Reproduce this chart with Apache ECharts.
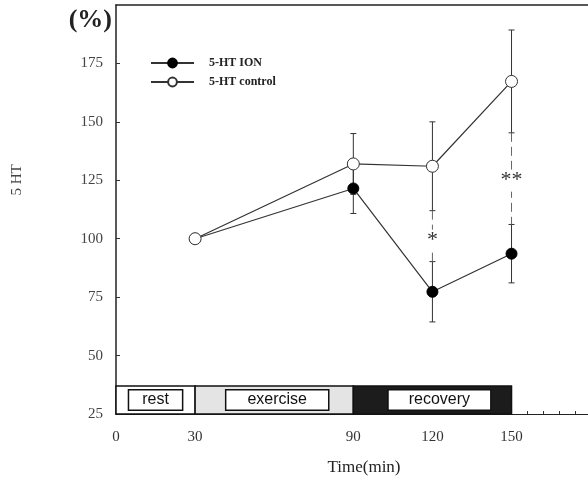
<!DOCTYPE html>
<html>
<head>
<meta charset="utf-8">
<script src="https://cdn.jsdelivr.net/npm/echarts@6/dist/echarts.min.js"></script>
<style>
  html, body { margin: 0; padding: 0; background: #fff; }
  #chart { width: 588px; height: 503px; }
</style>
</head>
<body>
<div id="chart"></div>
<script>
// time points (min)
const times = [30, 90, 120, 150];
// 5-HT ION (filled) mean and SE
const ionMean = [100, 121.5, 77.3, 93.6];
const ionErr = [0, 10.7, 12.9, 12.5];
// 5-HT control (open) mean and SE
const ctrlMean = [100, 132, 131, 167.3];
const ctrlErr = [0, 13, 19, 22];
// significance marks
const sigTimes = [120, 150];
const sigMarks = ['*', '**'];
const sigMarkY = [100, 125.7];
// protocol phases
const phaseNames = ['rest', 'exercise', 'recovery'];
const phaseStart = [0, 30, 90];
const phaseEnd = [30, 90, 150];
// axis labels
const xTickLabels = [0, 30, 90, 120, 150];
const yTickLabels = [25, 50, 75, 100, 125, 150, 175];

const serif = '"Liberation Serif", "DejaVu Serif", serif';
const sans = '"Liberation Sans", Arial, sans-serif';

const chart = echarts.init(document.getElementById('chart'));

function errData(mean, err) {
  return times.map((t, i) => [t, mean[i] - err[i], mean[i] + err[i]]).filter((d, i) => err[i] > 0);
}

function renderErr(params, api) {
  const x = api.value(0);
  const lo = api.coord([x, api.value(1)]);
  const hi = api.coord([x, api.value(2)]);
  const st = { stroke: '#333', lineWidth: 1 };
  return {
    type: 'group',
    children: [
      { type: 'line', shape: { x1: lo[0], y1: lo[1], x2: hi[0], y2: hi[1] }, style: st },
      { type: 'line', shape: { x1: lo[0] - 3, y1: lo[1], x2: lo[0] + 3, y2: lo[1] }, style: st },
      { type: 'line', shape: { x1: hi[0] - 3, y1: hi[1], x2: hi[0] + 3, y2: hi[1] }, style: st }
    ]
  };
}

const sigData = sigTimes.map((t, i) => {
  const k = times.indexOf(t);
  return [t, ctrlMean[k] - ctrlErr[k], ionMean[k] + ionErr[k], sigMarkY[i], i];
});

function renderSig(params, api) {
  const x = api.value(0);
  const a = api.coord([x, api.value(1)]);
  const b = api.coord([x, api.value(2)]);
  const m = api.coord([x, api.value(3)]);
  return {
    type: 'group',
    children: [
      { type: 'line', shape: { x1: a[0], y1: a[1], x2: b[0], y2: b[1] },
        style: { stroke: '#666', lineWidth: 1, lineDash: [9, 5] } },
      { type: 'text', x: m[0], y: m[1] + 2,
        style: { text: sigMarks[api.value(4)], font: '22px ' + serif, fill: '#333',
          align: 'center', verticalAlign: 'middle', backgroundColor: '#fff', padding: [0, 1] } }
    ]
  };
}

const phaseData = phaseNames.map((n, i) => [phaseStart[i], phaseEnd[i], i]);
const phaseFill = ['#ffffff', '#e4e4e4', '#1c1c1c'];
const phasePad = [13, 21, 20];
const phaseShift = [0, 3, 7];

function renderPhase(params, api) {
  const i = api.value(2);
  const p0 = api.coord([api.value(0), 37]);
  const p1 = api.coord([api.value(1), 25]);
  const cx = (p0[0] + p1[0]) / 2 + phaseShift[i];
  const cy = (p0[1] + p1[1]) / 2;
  return {
    type: 'group',
    children: [
      { type: 'rect', shape: { x: p0[0], y: p0[1], width: p1[0] - p0[0], height: p1[1] - p0[1] },
        style: { fill: phaseFill[i], stroke: '#111', lineWidth: 1.5 } },
      { type: 'text', x: cx, y: cy,
        style: { text: phaseNames[i], font: '16px ' + sans, fill: '#111', align: 'center',
          verticalAlign: 'middle', backgroundColor: '#fff', borderColor: '#111', borderWidth: 1.5,
          padding: [2, phasePad[i], 1, phasePad[i]] } }
    ]
  };
}

chart.setOption({
  animation: false,
  backgroundColor: '#fff',
  grid: { left: 116, right: 0, top: 5, bottom: 89 },
  legend: {
    orient: 'vertical', left: 145, top: 52, itemWidth: 43, itemHeight: 11, itemGap: 7,
    textStyle: { fontFamily: serif, fontWeight: 'bold', fontSize: 12, color: '#222', padding: [0, 0, 0, 10] },
    data: ['5-HT ION', '5-HT control']
  },
  xAxis: [{
    type: 'value', min: 0, max: 179,
    axisLine: { lineStyle: { color: '#222', width: 1 } },
    axisTick: { inside: true, length: 3, customValues: [156, 162, 168, 174], lineStyle: { color: '#333' } },
    axisLabel: { customValues: xTickLabels, margin: 16, fontFamily: serif, fontSize: 15, color: '#333' },
    splitLine: { show: false }
  }, {
    type: 'value', min: 0, max: 179, position: 'top',
    axisLine: { show: true, lineStyle: { color: '#222', width: 1.5 } },
    axisTick: { show: false }, axisLabel: { show: false }, splitLine: { show: false }
  }],
  yAxis: {
    type: 'value', min: 25, max: 200, interval: 25,
    axisLine: { show: true, lineStyle: { color: '#222', width: 1.5 } },
    axisTick: { inside: true, length: 4, customValues: yTickLabels, lineStyle: { color: '#333' } },
    axisLabel: { customValues: yTickLabels, margin: 13, fontFamily: serif, fontSize: 15, color: '#444' },
    splitLine: { show: false }
  },
  graphic: [
    { type: 'text', x: 112, y: 20,
      style: { text: '(%)', font: 'bold 26px ' + serif, fill: '#222', align: 'right', verticalAlign: 'middle' } },
    { type: 'text', x: 17, y: 180, rotation: Math.PI / 2,
      style: { text: '5 HT', font: '15px ' + serif, fill: '#444', align: 'center', verticalAlign: 'middle' } },
    { type: 'text', x: 364, y: 468,
      style: { text: 'Time(min)', font: '17px ' + serif, fill: '#222', align: 'center', verticalAlign: 'middle' } }
  ],
  series: [
    { type: 'custom', name: 'protocol', renderItem: renderPhase, data: phaseData, z: 1, silent: true },
    { type: 'custom', name: 'ionErr', renderItem: renderErr, data: errData(ionMean, ionErr), z: 2, silent: true },
    { type: 'custom', name: 'ctrlErr', renderItem: renderErr, data: errData(ctrlMean, ctrlErr), z: 2, silent: true },
    { type: 'custom', name: 'sig', renderItem: renderSig, data: sigData, z: 2, silent: true },
    {
      type: 'line', name: '5-HT ION', data: times.map((t, i) => [t, ionMean[i]]), z: 3,
      symbol: 'circle', symbolSize: 11, showAllSymbol: true,
      lineStyle: { color: '#333', width: 1.2 }, itemStyle: { color: '#000', borderColor: '#000', borderWidth: 1 }
    },
    {
      type: 'line', name: '5-HT control', data: times.map((t, i) => [t, ctrlMean[i]]), z: 4,
      symbol: 'circle', symbolSize: 12, showAllSymbol: true,
      lineStyle: { color: '#333', width: 1.2 }, itemStyle: { color: '#fff', borderColor: '#333', borderWidth: 1 }
    }
  ]
});
</script>
</body>
</html>
